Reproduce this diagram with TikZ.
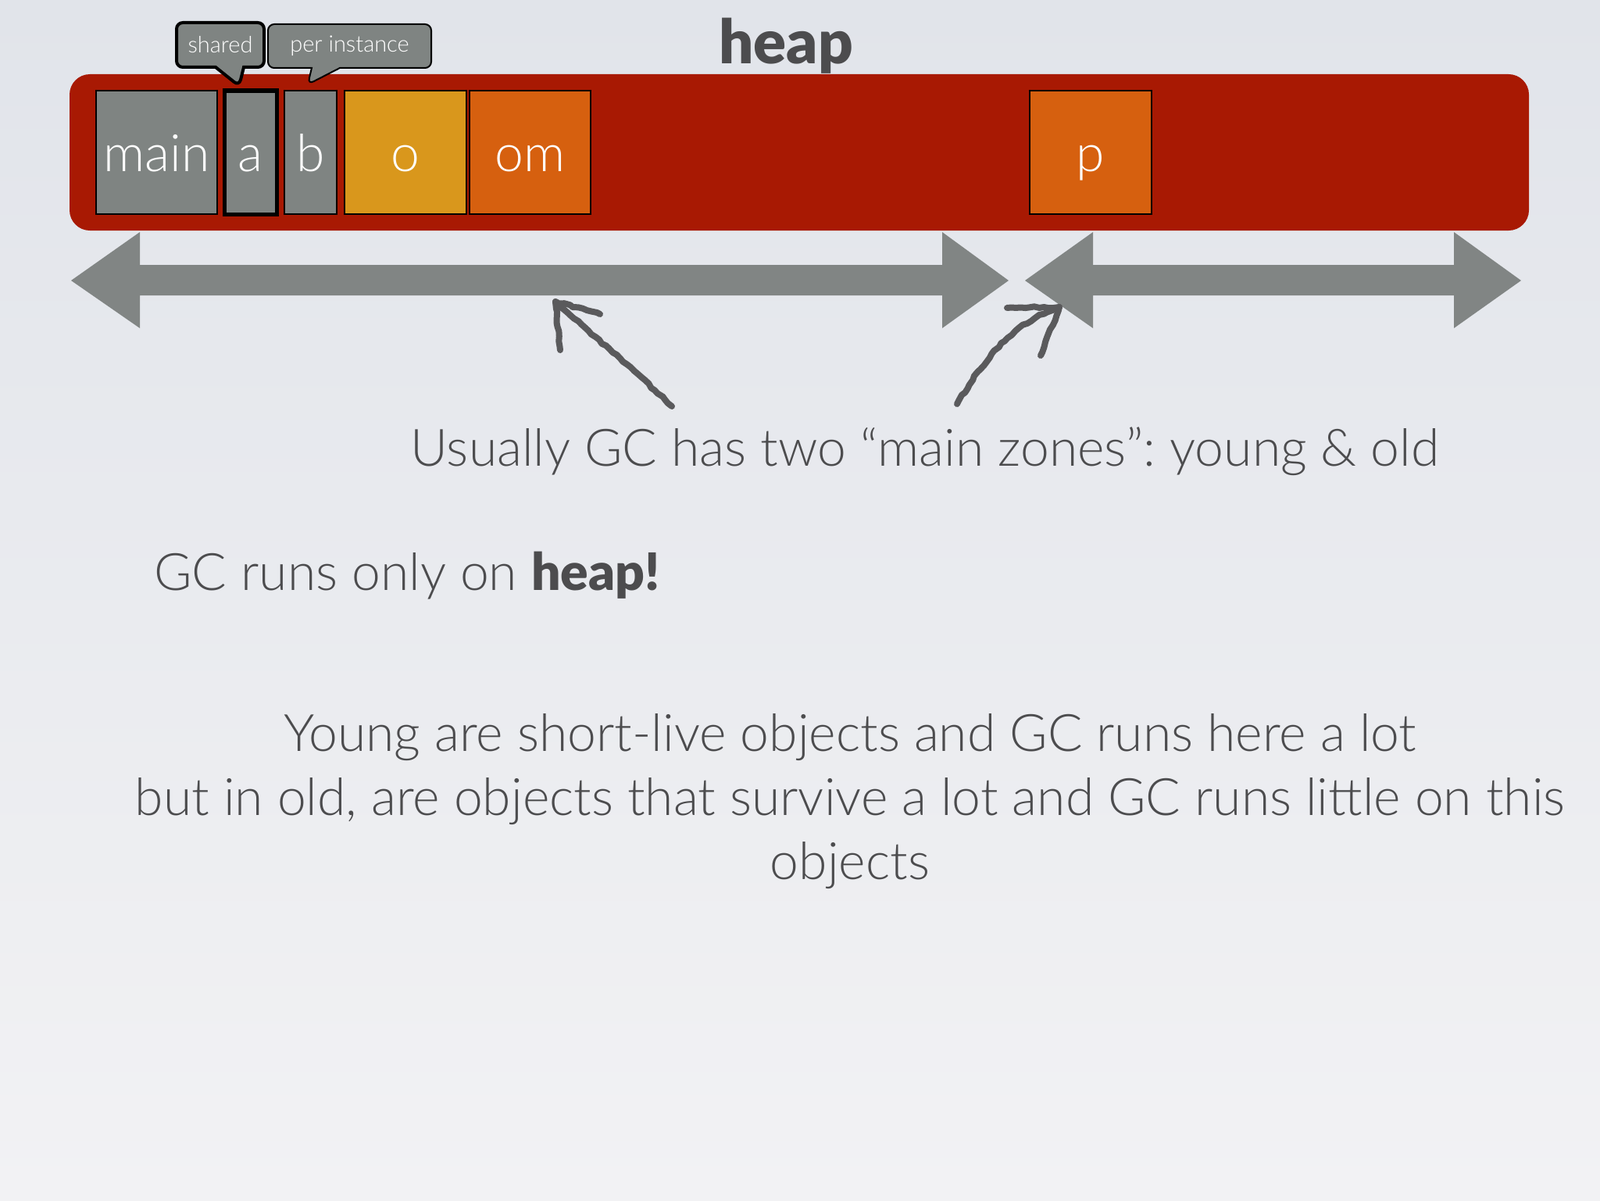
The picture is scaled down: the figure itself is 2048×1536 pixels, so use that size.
\documentclass[tikz,border=0pt]{standalone}
\usepackage{fontspec}
\setmainfont{Lato}[UprightFont={* Light},BoldFont={* Black}]
\usetikzlibrary{shapes.callouts,decorations.pathmorphing}
\frenchspacing

\begin{document}
\begin{tikzpicture}[x=0.5pt,y=-0.5pt]
% Changing colors
\definecolor{bgtop}{RGB}{225,228,234}%
\definecolor{bgbottom}{RGB}{242,242,244}%
\definecolor{heapred}{RGB}{168,25,3}%
\definecolor{cellgray}{RGB}{127,132,130}%
\definecolor{youngyellow}{RGB}{217,151,28}%
\definecolor{objorange}{RGB}{214,96,15}%
\definecolor{arrowgray}{RGB}{129,133,132}%
\definecolor{sketchgray}{RGB}{90,90,92}%
\definecolor{textgray}{RGB}{76,76,78}%
\tikzset{
  heapbar/.style={fill=heapred, rounded corners=13pt, inner sep=0pt},
  cell/.style={draw=black, line width=1pt, minimum height=79pt, inner sep=0pt,
    text=white, text height=16pt, text depth=0pt, font=\fontsize{33}{38}\selectfont},
  celltext/.style={text=white, inner sep=0pt, font=\fontsize{33}{38}\selectfont},
  tag/.style={rectangle callout, draw=black, fill=cellgray, rounded corners=4pt,
    callout pointer width=18pt, inner sep=0pt, text=white, font=\fontsize{14.5}{16}\selectfont},
  zonearrow/.style={fill=arrowgray},
  sketch/.style={draw=sketchgray, line width=4pt, line cap=round, line join=round,
    decorate, decoration={random steps, segment length=3pt, amplitude=0.6pt}},
  caption/.style={text=textgray, inner sep=0pt, font=\fontsize{33}{41}\selectfont}
}

% Marking the page
\useasboundingbox (0,0) rectangle (2048,1536);
\shade[top color=bgtop, bottom color=bgbottom] (0,0) rectangle (2048,1536);

% Drawing title
\node[text=textgray, inner sep=0pt, anchor=base, font=\fontsize{39}{44}\selectfont\bfseries] (title) at (1006,82) {heap};

% Drawing heap bar
\node[heapbar, minimum width=934pt, minimum height=100pt] (heap) at (1023,195) {};

% Drawing cells
\node[cell, fill=cellgray, minimum width=77.5pt] (main) at (200.5,195) {};
\node[cell, fill=cellgray, minimum width=33.5pt, line width=2.5pt] (a) at (320.5,195) {};
\node[cell, fill=cellgray, minimum width=33.5pt] (b) at (397.5,195) {};
\node[cell, fill=youngyellow, minimum width=78pt] (o) at (519,195) {};
\node[cell, fill=objorange, minimum width=77.5pt] (om) at (678.5,195) {};
\node[cell, fill=objorange, minimum width=78pt] (p) at (1396,195) {};

% Marking cell names
\foreach \cellname/\celllabel in {main/main, a/a, b/b, o/o, om/om, p/p}
  \node[celltext, anchor=base] (\cellname-label) at ([yshift=-12pt]\cellname.center) {\celllabel};

% Marking callouts
\node[tag, line width=2pt, minimum width=56pt, minimum height=28.5pt,
  callout absolute pointer={(306,110)}] (shared) at (282,57.5) {shared};
\node[tag, line width=1pt, minimum width=104.5pt, minimum height=28pt,
  callout absolute pointer={(394,108)}] (perinst) at (447.5,59) {per instance};

% Drawing zone young
\fill[zonearrow] (91,359) -- (179,297) -- (179,339) -- (1206,339) -- (1206,297) -- (1291,359)
  -- (1206,420) -- (1206,378) -- (179,378) -- (179,420) -- cycle;
% Drawing zone old
\fill[zonearrow] (1312,359) -- (1399,297) -- (1399,339) -- (1861,339) -- (1861,297) -- (1947,359)
  -- (1861,420) -- (1861,378) -- (1399,378) -- (1399,420) -- cycle;

% Drawing texts
\node[caption, anchor=base] (zones) at (1184,596) {Usually GC has two “main zones”: young \& old};
\node[caption, anchor=base west] (runs) at (197,755) {GC runs only on \textbf{heap!}};
\node[caption, align=center, anchor=north] (lifetime) at (1088,913)
  {Young are short-live objects and GC runs here a lot\\
   but in old, are objects that survive a lot and GC runs little on this\\
   objects};

% Drawing sketched arrows
\coordinate (youngtip) at (711,386);
\coordinate (oldtip) at (1356,393);
\draw[sketch] (860,520) .. controls (800,462) and (752,424) .. (youngtip);
\draw[sketch] (717,448) -- (youngtip) -- (768,402);
\draw[sketch] (1225,517) .. controls (1262,455) and (1300,412) .. (oldtip);
\draw[sketch] (1289,394) -- (oldtip) -- (1332,455);
\end{tikzpicture}
\end{document}
